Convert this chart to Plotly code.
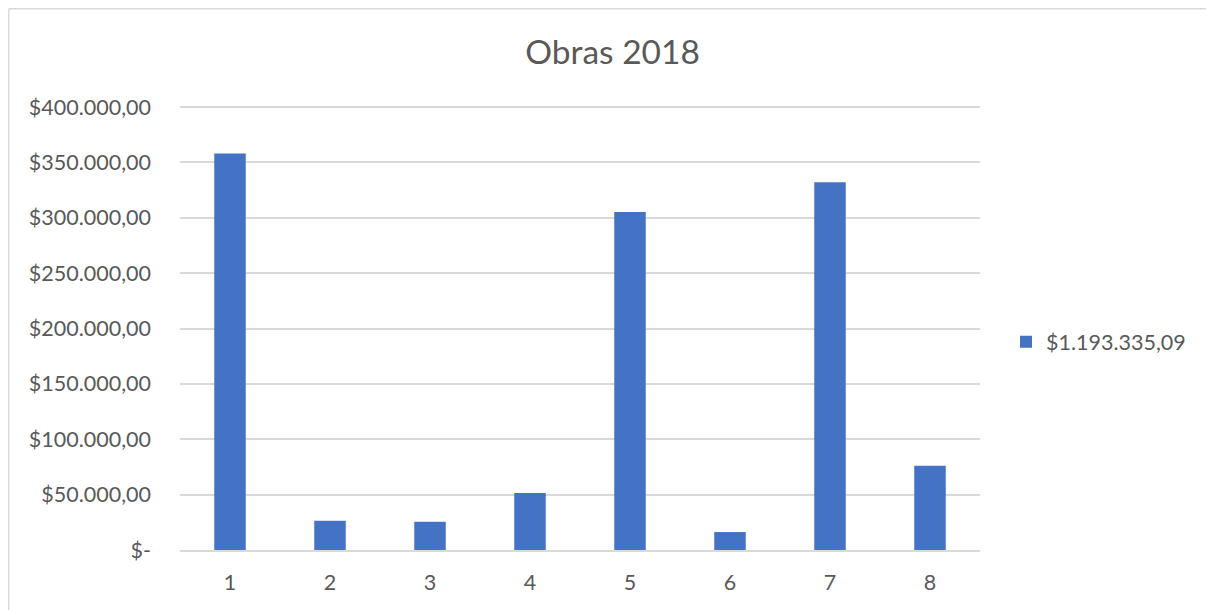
import plotly.graph_objects as go

categories = ["1", "2", "3", "4", "5", "6", "7", "8"]
values = [358000, 26400, 25500, 51400, 305300, 16200, 332100, 76000]
series_name = "$1.193.335,09"
title_text = "Obras 2018"
ytick_vals = [0, 50000, 100000, 150000, 200000, 250000, 300000, 350000, 400000]
ytick_text = ["$-", "$50.000,00", "$100.000,00", "$150.000,00", "$200.000,00",
              "$250.000,00", "$300.000,00", "$350.000,00", "$400.000,00"]

FONT = "Lato, Open Sans, sans-serif"
TXT = "#595959"
GRID = "#D9D9D9"

fig = go.Figure()
fig.add_trace(go.Bar(x=categories, y=values, name=series_name,
                     marker=dict(color="#4472C4", line=dict(width=0)),
                     showlegend=True))

# plot area: height 445 px, 400k at 443 px above the baseline
fig.update_layout(
    width=1214, height=610,
    paper_bgcolor="white", plot_bgcolor="white",
    margin=dict(l=172, r=242, t=97, b=68),
    bargap=0.685,
    font=dict(family=FONT, color=TXT, size=21.5),
    title=dict(text=title_text, x=0.498, xanchor="center", y=0.928, yanchor="middle",
               font=dict(family=FONT, size=33.5, color=TXT)),
    showlegend=True,
    legend=dict(x=1.0325, xanchor="left", y=0.468, yanchor="middle",
                font=dict(family=FONT, size=21.5, color=TXT), bgcolor="rgba(0,0,0,0)"),
    xaxis=dict(showgrid=False, showline=True, linecolor=GRID, linewidth=2,
               ticks="", tickfont=dict(size=21.5, color=TXT), ticklabelstandoff=12,
               fixedrange=True),
    yaxis=dict(range=[0, 401800], tickvals=ytick_vals, ticktext=ytick_text,
               showgrid=True, gridcolor=GRID, gridwidth=1.5, zeroline=False,
               showline=False, ticks="", tickfont=dict(size=21.5, color=TXT),
               ticklabelstandoff=28),
    shapes=[
        dict(type="line", xref="paper", yref="paper", x0=-0.2141, x1=1.3, y0=1.2164, y1=1.2164,
             line=dict(color=GRID, width=1.5)),
        dict(type="line", xref="paper", yref="paper", x0=-0.2141, x1=-0.2141, y0=1.2164, y1=-0.2,
             line=dict(color=GRID, width=1.5)),
    ],
)

fig.write_html("out.html")
